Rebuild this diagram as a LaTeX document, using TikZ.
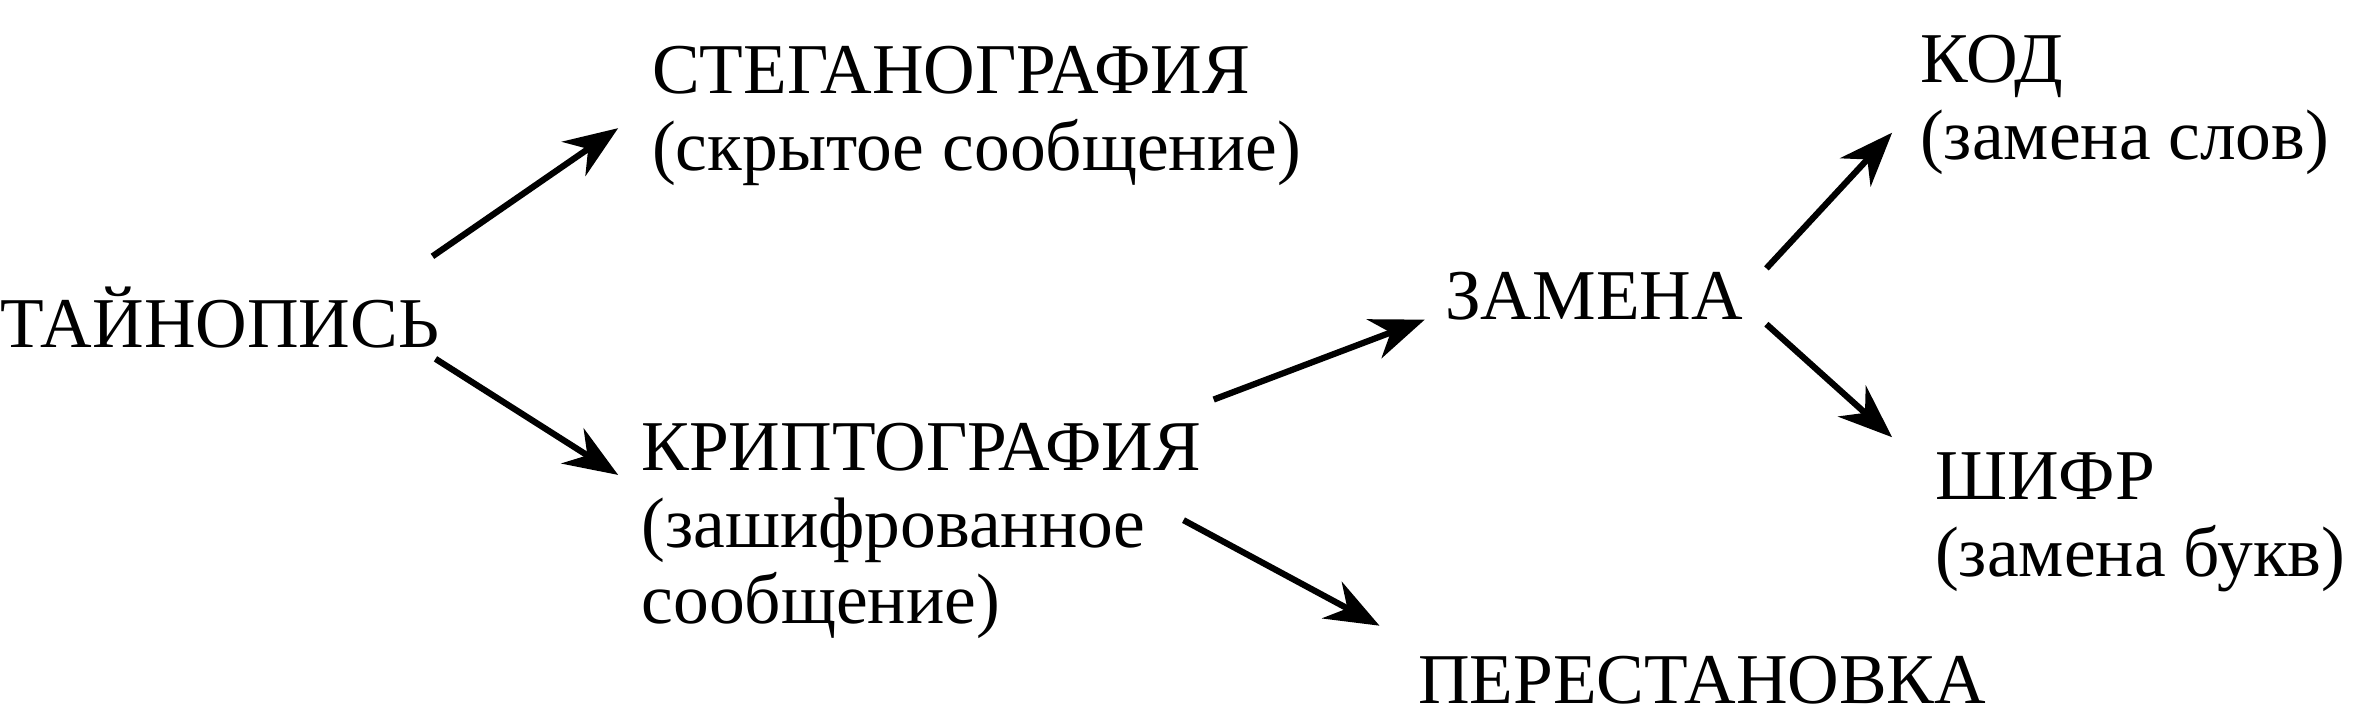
\documentclass[tikz,border=0pt]{standalone}
\usepackage{fontspec}
\setmainfont{Liberation Serif}
\usetikzlibrary{arrows.meta}
\tikzset{
  term/.style={anchor=north west, inner sep=0pt, align=left,
    font=\fontsize{17.2}{18.5}\selectfont},
  link/.style={-{Stealth[length=13pt,width=10pt]}, line width=1.5pt}
}
\begin{document}
\begin{tikzpicture}[x=0.012755cm,y=-0.012755cm]
   \useasboundingbox (0,0) rectangle (1568,470);
   \node[term] (tain)   at (0,190)    {ТАЙНОПИСЬ};
   \node[term] (steg)   at (432,30)   {СТЕГАНОГРАФИЯ\\(скрытое сообщение)};
   \node[term] (kript)  at (425,280)  {КРИПТОГРАФИЯ\\(зашифрованное\\сообщение)};
   \node[term] (zam)    at (958,180)  {ЗАМЕНА};
   \node[term] (kod)    at (1273,23)  {КОД\\(замена слов)};
   \node[term] (shifr)  at (1283,300) {ШИФР\\(замена букв)};
   \node[term] (perest) at (940,435)  {ПЕРЕСТАНОВКА};
   \draw[link] ([shift={(-5,-20)}]tain.north east) -- ([shift={(-22,55)}]steg.north west);
   \draw[link] ([shift={(-3,48)}]tain.north east) -- ([shift={(-15,35)}]kript.north west);
   \draw[link] ([shift={(380,-15)}]kript.north west) -- ([shift={(-13,32)}]zam.north west);
   \draw[link] ([shift={(360,65)}]kript.north west) -- ([shift={(-25,-20)}]perest.north west);
   \draw[link] ([shift={(15,-2)}]zam.north east) -- ([shift={(-18,65)}]kod.north west);
   \draw[link] ([shift={(15,35)}]zam.north east) -- ([shift={(-28,-10)}]shifr.north west);
\end{tikzpicture}
\end{document}
